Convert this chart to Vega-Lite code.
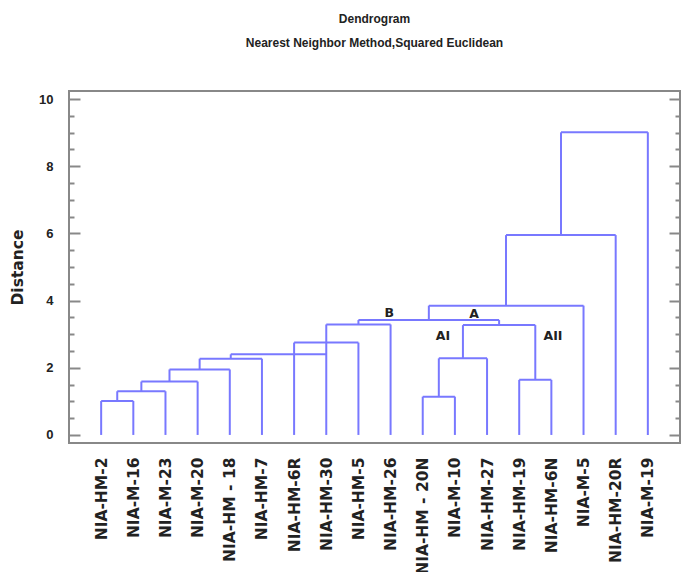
{
  "$schema": "https://vega.github.io/schema/vega-lite/v6.json",
  "autosize": "none",
  "padding": {"left": 69, "top": 91, "right": 1, "bottom": 129},
  "width": 611,
  "height": 352,
  "background": "white",
  "config": {"view": {"stroke": "#888888", "strokeWidth": 2}},
  "title": {
    "text": "Dendrogram",
    "subtitle": "Nearest Neighbor Method,Squared Euclidean",
    "font": "Liberation Sans",
    "fontSize": 12,
    "fontWeight": "bold",
    "color": "#222222",
    "subtitleFont": "Liberation Sans",
    "subtitleFontSize": 12,
    "subtitleFontWeight": "bold",
    "subtitleColor": "#222222",
    "subtitlePadding": 12,
    "anchor": "middle",
    "offset": 41
  },
  "datasets": {
    "leaves": [
      {"name": "NIA-HM-2", "height": 1.01},
      {"name": "NIA-M-16", "height": 1.01},
      {"name": "NIA-M-23", "height": 1.30},
      {"name": "NIA-M-20", "height": 1.59},
      {"name": "NIA-HM - 18", "height": 1.95},
      {"name": "NIA-HM-7", "height": 2.27},
      {"name": "NIA-HM-6R", "height": 2.75},
      {"name": "NIA-HM-30", "height": 3.29},
      {"name": "NIA-HM-5", "height": 2.75},
      {"name": "NIA-HM-26", "height": 3.29},
      {"name": "NIA-HM - 20N", "height": 1.14},
      {"name": "NIA-M-10", "height": 1.14},
      {"name": "NIA-HM-27", "height": 2.28},
      {"name": "NIA-HM-19", "height": 1.64},
      {"name": "NIA-HM-6N", "height": 1.64},
      {"name": "NIA-M-5", "height": 3.85},
      {"name": "NIA-HM-20R", "height": 5.95},
      {"name": "NIA-M-19", "height": 9.01}
    ],
    "links": [
      {"x": 0, "x2": 1, "y": 1.01, "y2": 1.01},
      {"x": 0.5, "x2": 2, "y": 1.30, "y2": 1.30},
      {"x": 1.25, "x2": 3, "y": 1.59, "y2": 1.59},
      {"x": 2.125, "x2": 4, "y": 1.95, "y2": 1.95},
      {"x": 3.0625, "x2": 5, "y": 2.27, "y2": 2.27},
      {"x": 4.03, "x2": 7, "y": 2.40, "y2": 2.40},
      {"x": 6, "x2": 8, "y": 2.75, "y2": 2.75},
      {"x": 7, "x2": 9, "y": 3.29, "y2": 3.29},
      {"x": 10, "x2": 11, "y": 1.14, "y2": 1.14},
      {"x": 10.5, "x2": 12, "y": 2.28, "y2": 2.28},
      {"x": 13, "x2": 14, "y": 1.64, "y2": 1.64},
      {"x": 11.25, "x2": 13.5, "y": 3.27, "y2": 3.27},
      {"x": 8, "x2": 12.375, "y": 3.42, "y2": 3.42},
      {"x": 10.19, "x2": 15, "y": 3.85, "y2": 3.85},
      {"x": 12.59, "x2": 16, "y": 5.95, "y2": 5.95},
      {"x": 14.3, "x2": 17, "y": 9.01, "y2": 9.01},
      {"x": 0.5, "x2": 0.5, "y": 1.01, "y2": 1.30},
      {"x": 1.25, "x2": 1.25, "y": 1.30, "y2": 1.59},
      {"x": 2.125, "x2": 2.125, "y": 1.59, "y2": 1.95},
      {"x": 3.0625, "x2": 3.0625, "y": 1.95, "y2": 2.27},
      {"x": 4.03, "x2": 4.03, "y": 2.27, "y2": 2.40},
      {"x": 8, "x2": 8, "y": 3.29, "y2": 3.42},
      {"x": 10.5, "x2": 10.5, "y": 1.14, "y2": 2.28},
      {"x": 11.25, "x2": 11.25, "y": 2.28, "y2": 3.27},
      {"x": 13.5, "x2": 13.5, "y": 1.64, "y2": 3.27},
      {"x": 12.375, "x2": 12.375, "y": 3.27, "y2": 3.42},
      {"x": 10.19, "x2": 10.19, "y": 3.42, "y2": 3.85},
      {"x": 12.59, "x2": 12.59, "y": 3.85, "y2": 5.95},
      {"x": 14.3, "x2": 14.3, "y": 5.95, "y2": 9.01}
    ],
    "tags": [
      {"label": "B", "x": 8.96, "y": 3.63},
      {"label": "A", "x": 11.6, "y": 3.60},
      {"label": "AI", "x": 10.63, "y": 2.95},
      {"label": "AII", "x": 14.05, "y": 2.95}
    ]
  },
  "layer": [
    {
      "data": {"name": "leaves"},
      "mark": {"type": "bar", "color": "#7878ff", "width": 2},
      "encoding": {
        "x": {
          "field": "name",
          "type": "nominal",
          "sort": null,
          "scale": {"type": "point", "padding": 1},
          "axis": {
            "orient": "bottom",
            "title": null,
            "domain": false,
            "ticks": false,
            "labelAngle": -90,
            "labelFont": "DejaVu Sans",
            "labelFontWeight": "bold",
            "labelFontSize": 15.5,
            "labelColor": "#222222",
            "labelPadding": 14,
            "labelOverlap": false,
            "labelLimit": 0
          }
        },
        "y": {
          "field": "height",
          "type": "quantitative",
          "stack": null,
          "scale": {"domain": [-0.24, 10.24], "nice": false, "zero": false},
          "axis": {
            "orient": "left",
            "values": [0, 0.5, 1, 1.5, 2, 2.5, 3, 3.5, 4, 4.5, 5, 5.5, 6, 6.5, 7, 7.5, 8, 8.5, 9, 9.5, 10],
            "title": "Distance",
            "titleFont": "DejaVu Sans",
            "titleFontWeight": "bold",
            "titleFontSize": 15.5,
            "titleColor": "#222222",
            "titlePadding": 13,
            "domain": false,
            "grid": false,
            "tickColor": "#888888",
            "tickWidth": 2,
            "tickSize": {"condition": {"test": "datum.value % 2 === 0", "value": -11}, "value": -5},
            "labelExpr": "datum.value % 2 === 0 ? format(datum.value, 'd') : ''",
            "labelFont": "Liberation Sans",
            "labelFontWeight": "bold",
            "labelFontSize": 13,
            "labelColor": "#222222",
            "labelPadding": 27,
            "labelOverlap": false
          }
        }
      }
    },
    {
      "data": {"name": "links"},
      "mark": {"type": "rule", "color": "#7878ff", "strokeWidth": 2},
      "encoding": {
        "x": {"field": "x", "type": "quantitative", "scale": {"domain": [-1, 18], "nice": false, "zero": false}, "axis": null},
        "x2": {"field": "x2"},
        "y": {
          "field": "y",
          "type": "quantitative",
          "scale": {"domain": [-0.24, 10.24], "nice": false, "zero": false},
          "axis": {
            "orient": "right",
            "values": [0, 0.5, 1, 1.5, 2, 2.5, 3, 3.5, 4, 4.5, 5, 5.5, 6, 6.5, 7, 7.5, 8, 8.5, 9, 9.5, 10],
            "title": null,
            "labels": false,
            "domain": false,
            "grid": false,
            "tickColor": "#888888",
            "tickWidth": 2,
            "tickSize": {"condition": {"test": "datum.value % 2 === 0", "value": -11}, "value": -5}
          }
        },
        "y2": {"field": "y2"}
      }
    },
    {
      "data": {"name": "tags"},
      "mark": {"type": "text", "font": "DejaVu Sans", "fontWeight": "bold", "fontSize": 12.5, "color": "#222222", "align": "center", "baseline": "middle"},
      "encoding": {
        "x": {"field": "x", "type": "quantitative", "scale": {"domain": [-1, 18], "nice": false, "zero": false}, "axis": null},
        "y": {"field": "y", "type": "quantitative", "scale": {"domain": [-0.24, 10.24], "nice": false, "zero": false}, "axis": null},
        "text": {"field": "label"}
      }
    }
  ],
  "resolve": {"scale": {"x": "independent"}, "axis": {"x": "independent", "y": "independent"}}
}
